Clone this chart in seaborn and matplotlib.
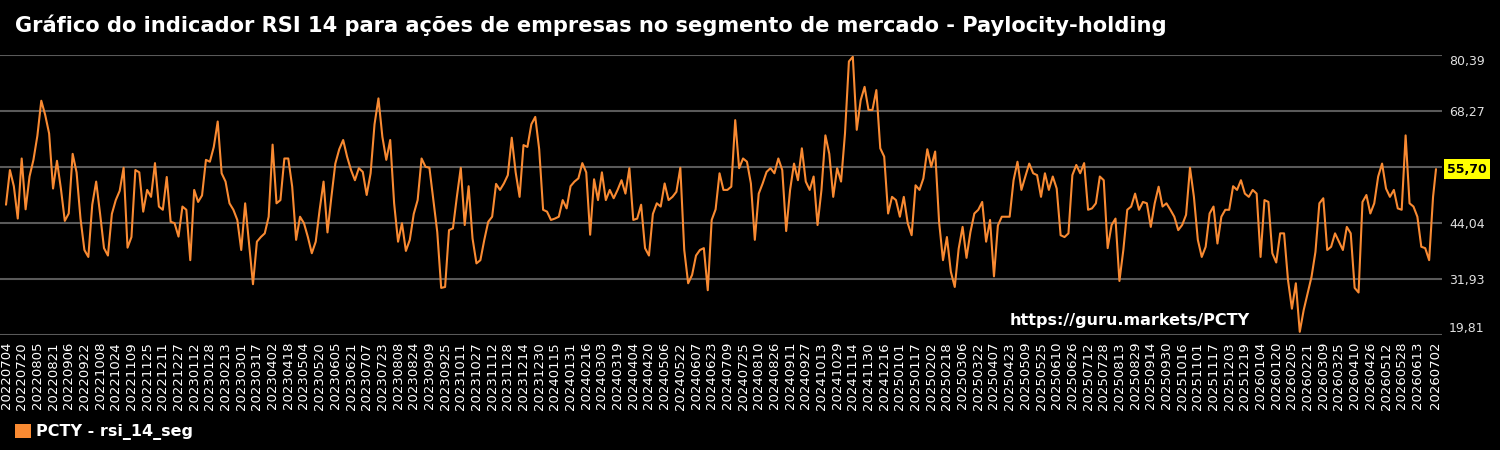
import matplotlib
matplotlib.use("Agg")
import matplotlib.pyplot as plt
from matplotlib.patches import Patch
import seaborn as sns
import pandas as pd
import numpy as np

start_date = "2022-07-04"
last_date = "2026-07-02"
rsi_values = [
    48.0, 55.5, 52.0, 45.0, 58.0, 47.0, 54.1, 57.7, 62.9, 70.5,
    67.4, 63.4, 51.5, 57.5, 51.5, 44.5, 46.1, 59.0, 55.0, 45.0,
    38.2, 36.7, 48.0, 53.0, 46.0, 38.6, 37.0, 46.0, 49.0, 51.0,
    56.0, 38.7, 41.0, 55.5, 55.0, 46.5, 51.2, 49.7, 57.0, 47.6,
    46.9, 54.0, 44.3, 44.0, 41.1, 47.6, 46.9, 36.0, 51.2, 48.6,
    50.0, 57.7, 57.3, 60.5, 66.0, 54.8, 53.0, 48.3, 46.9, 44.7,
    38.2, 48.3, 39.6, 30.8, 40.0, 41.0, 41.8, 45.4, 61.0, 48.3,
    49.0, 58.0, 58.0, 51.9, 40.4, 45.4, 44.0, 41.0, 37.5, 40.0,
    46.9, 53.0, 42.0, 49.7, 56.9, 60.0, 62.0, 58.4, 55.5, 53.3,
    55.9,
    55.1, 50.1, 54.8, 65.4, 71.0, 62.7, 57.7, 62.0, 48.3, 40.0,
    44.0, 38.0, 40.4, 46.0, 49.0, 58.0, 56.2, 56.0, 49.0, 42.1,
    30.0, 30.2, 42.5, 42.9, 49.7, 56.0, 43.6, 52.0, 40.7, 35.3,
    36.0, 40.4, 44.3, 45.4, 52.5, 51.2, 52.6, 54.4, 62.5, 55.0,
    49.7, 60.9, 60.5, 65.4, 67.0, 60.0, 46.9, 46.5, 44.7, 45.0,
    45.4, 49.0, 47.2, 52.0, 53.0, 53.7, 57.0, 55.0, 41.5, 53.5,
    49.0,
    55.0, 49.0, 51.2, 49.4, 51.2, 53.3, 50.4, 55.9, 44.7, 45.0,
    48.0, 38.6, 37.0, 46.0, 48.3, 47.6, 52.6, 49.0, 49.7, 50.8,
    56.0, 38.2, 31.0, 32.8, 37.0, 38.2, 38.6, 29.5, 44.7, 47.0,
    54.8,
    51.2, 51.2, 51.9, 66.3, 55.9, 58.0, 57.3, 52.6, 40.4, 50.4,
    52.6, 55.1, 55.9, 54.8, 58.0, 55.5, 42.3, 51.2, 56.9, 53.3,
    60.2, 53.0, 51.2, 54.1, 43.6, 51.2, 63.0, 59.0, 49.7, 55.9,
    53.0, 63.4, 79.0, 80.0, 64.2, 70.6, 73.5, 68.5, 68.5, 72.8,
    60.2, 58.4, 46.1, 49.7, 49.0, 45.4, 49.7, 44.0, 41.4, 52.2,
    51.2, 53.7, 60.0, 56.2, 59.5, 44.3, 36.0, 41.0, 33.5, 30.2,
    38.5,
    43.2, 36.5, 42.1, 46.1, 46.9, 48.6, 40.0, 44.7, 32.5, 43.5,
    45.4, 45.4, 45.4, 53.3, 57.3, 51.2, 54.1, 56.9, 54.8, 54.4,
    49.7, 54.8, 51.2, 54.1, 51.5, 41.4, 41.0, 41.8, 54.4, 56.6,
    54.8, 57.0, 46.9, 47.2, 48.3, 54.1, 53.3, 38.6, 43.6, 45.0,
    31.5, 38.2, 46.9, 47.6, 50.4, 46.9, 48.6, 48.3, 43.2, 48.3,
    51.9, 47.6, 48.3, 46.9, 45.4, 42.5, 43.6, 45.8, 56.0, 49.7,
    40.4,
    36.7, 38.9, 46.1, 47.6, 39.6, 45.4, 46.9, 46.9, 52.0, 51.2,
    53.3, 50.4, 49.7, 51.2, 50.4, 36.7, 49.0, 48.6, 37.5, 35.5,
    41.8, 41.8, 31.7, 25.5, 31.0, 20.5, 25.2, 28.8, 32.4, 37.8,
    48.3,
    49.4, 38.2, 38.9, 41.8, 40.0, 38.2, 43.2, 41.8, 30.0, 29.0,
    48.6, 50.1, 46.1, 48.3, 54.1, 56.9, 51.5, 49.7, 51.2, 47.2,
    46.9, 63.0, 48.3, 47.6, 45.4, 38.9, 38.6, 36.0, 49.7,
    55.70,
]
y_min_label = 19.81
y_max_label = 80.39
last_value = 55.70
series_name = "PCTY - rsi_14_seg"
title_text = "Gráfico do indicador RSI 14 para ações de empresas no segmento de mercado - Paylocity-holding"
watermark = "https://guru.markets/PCTY"

# ---- build frame ----
d0 = pd.Timestamp(start_date)
dates = list(pd.date_range(start_date, periods=len(rsi_values) - 1, freq="4D")) + [pd.Timestamp(last_date)]
df = pd.DataFrame({"date": dates, "rsi": rsi_values})
df["day"] = (df["date"] - d0).dt.days

tick_dates = list(pd.date_range(start_date, last_date, freq="16D"))
tick_dates = [d for d in tick_dates if (pd.Timestamp(last_date) - d).days > 16] + [pd.Timestamp(last_date)]
tick_days = [(d - d0).days for d in tick_dates]
tick_labels = [d.strftime("%Y%m%d") for d in tick_dates]

yticks = np.linspace(y_min_label, y_max_label, 6)

# ---- style ----
sns.set_theme(style="dark")
plt.rcParams["font.family"] = ["DejaVu Sans"]

LINE = "#f98a32"
fig = plt.figure(figsize=(15, 4.5), dpi=100, facecolor="black")
ax = fig.add_axes([0.0, 1 - 335 / 450, 1442 / 1500, 280 / 450])
ax.set_facecolor("black")

sns.lineplot(data=df, x="day", y="rsi", ax=ax, color=LINE, linewidth=1.5, legend=False)

last_day = df["day"].iloc[-1]
pad = 6 / 0.98
ax.set_xlim(-pad, last_day + pad)
ax.set_ylim(y_min_label, y_max_label)

ax.set_yticks(yticks)
ylabels = [f"{v:.2f}".replace(".", ",") for v in yticks]
ylabels[3] = ""
ax.set_yticklabels(ylabels)
ax.yaxis.tick_right()
ax.tick_params(axis="y", length=0, colors="#e0e0e0", labelsize=9, pad=5)
ytl = ax.get_yticklabels()
ytl[0].set_va("bottom")
ytl[-1].set_va("top")
ax.yaxis.grid(True, color="#5a5a5a", linewidth=1.5)
ax.xaxis.grid(False)

ax.set_xticks(tick_days)
ax.set_xticklabels(tick_labels, rotation=90)
ax.tick_params(axis="x", length=0, colors="white", labelsize=9.5, pad=5)
ax.set_xlabel("")
ax.set_ylabel("")
for s in ax.spines.values():
    s.set_visible(False)

ax.annotate(f"{last_value:.2f}".replace(".", ","), xy=(1.0, last_value),
            xycoords=("axes fraction", "data"), xytext=(3.5, 0), textcoords="offset points",
            ha="left", va="center", fontsize=9, fontweight="bold", color="black",
            bbox=dict(boxstyle="square,pad=0.25", facecolor="#ffff00", edgecolor="none"))

fig.text(15 / 1500, 1 - 25 / 450, title_text, color="white", fontsize=15.1,
         fontweight="bold", ha="left", va="center")
fig.text(1010 / 1500, 1 - 320 / 450, watermark, color="white", fontsize=11.5,
         fontweight="bold", ha="left", va="center")

fig.legend(handles=[Patch(facecolor=LINE, edgecolor="none", label=series_name)],
           loc="lower left", bbox_to_anchor=(5 / 1500, 0.0), borderaxespad=0.2,
           frameon=False, labelcolor="white", prop={"weight": "bold", "size": 11.5},
           handlelength=1.0, handleheight=1.0, handletextpad=0.35)

fig.savefig("out.png", dpi=100, facecolor="black")
